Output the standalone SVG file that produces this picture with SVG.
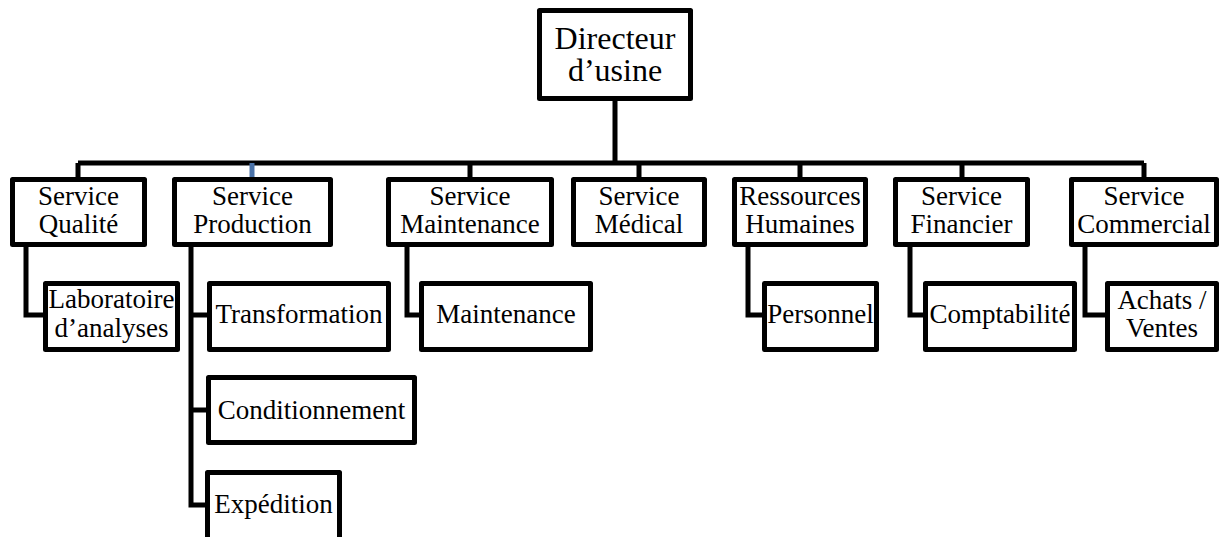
<svg xmlns="http://www.w3.org/2000/svg" width="1220" height="537" viewBox="0 0 1220 537">
<style>
.box{fill:#fff;stroke:#000;stroke-width:5;stroke-linejoin:round}
.c{fill:none;stroke:#000;stroke-width:5;stroke-linejoin:miter}
.t text{font-size:27px;fill:#000;text-anchor:middle}
.t .big{font-size:32px}
</style>
<rect width="1220" height="537" fill="#fff"/>
<g id="connectors">
<path class="c" d="M615 101V163M78 163H1144M78 163V177M470 163V177M639 163V177M800 163V177M962 163V177M1144 163V177"/>
<path d="M252 163V177" fill="none" stroke="#4a72a8" stroke-width="5"/>
<path class="c" d="M26 247V315H43M191 247V505H205M191 315H207M191 410H206M407 247V315H419M748 247V315H762M910 247V315H923M1085 247V315H1105"/>
</g>
<g class="t" font-family="'Liberation Serif', 'Times New Roman', serif">
<g id="directeur"><rect class="box" x="539.5" y="10.5" width="151" height="88"/><text class="big" x="615" y="49">Directeur</text><text class="big" x="615" y="81">d’usine</text></g>
<g id="qualite"><rect class="box" x="12.5" y="179.5" width="132" height="65"/><text x="78.5" y="205">Service</text><text x="78.5" y="233">Qualité</text></g>
<g id="production"><rect class="box" x="174.5" y="179.5" width="156" height="65"/><text x="252.5" y="205">Service</text><text x="252.5" y="233">Production</text></g>
<g id="maintenance-service"><rect class="box" x="388.5" y="179.5" width="163" height="65"/><text x="470" y="205">Service</text><text x="470" y="233">Maintenance</text></g>
<g id="medical"><rect class="box" x="573.5" y="179.5" width="131" height="65"/><text x="639" y="205">Service</text><text x="639" y="233">Médical</text></g>
<g id="rh"><rect class="box" x="734.5" y="179.5" width="131" height="65"/><text x="800" y="205">Ressources</text><text x="800" y="233">Humaines</text></g>
<g id="financier"><rect class="box" x="895.5" y="179.5" width="132" height="65"/><text x="961.5" y="205">Service</text><text x="961.5" y="233">Financier</text></g>
<g id="commercial"><rect class="box" x="1071.5" y="179.5" width="145" height="65"/><text x="1144" y="205">Service</text><text x="1144" y="233">Commercial</text></g>
<g id="laboratoire"><rect class="box" x="45.5" y="283.5" width="132" height="66"/><text x="111.5" y="308">Laboratoire</text><text x="111.5" y="337">d’analyses</text></g>
<g id="transformation"><rect class="box" x="209.5" y="283.5" width="179" height="66"/><text x="299" y="323">Transformation</text></g>
<g id="maintenance"><rect class="box" x="421.5" y="283.5" width="169" height="66"/><text x="506" y="323">Maintenance</text></g>
<g id="personnel"><rect class="box" x="764.5" y="283.5" width="112" height="66"/><text x="820.5" y="323">Personnel</text></g>
<g id="comptabilite"><rect class="box" x="925.5" y="283.5" width="149" height="66"/><text x="1000" y="323">Comptabilité</text></g>
<g id="achats"><rect class="box" x="1107.5" y="283.5" width="109" height="66"/><text x="1162" y="309">Achats /</text><text x="1162" y="337">Ventes</text></g>
<g id="conditionnement"><rect class="box" x="208.5" y="377.5" width="206" height="65"/><text x="311.5" y="419">Conditionnement</text></g>
<g id="expedition"><rect class="box" x="207.5" y="472.5" width="132" height="72"/><text x="273.5" y="513">Expédition</text></g>
</g>
</svg>
